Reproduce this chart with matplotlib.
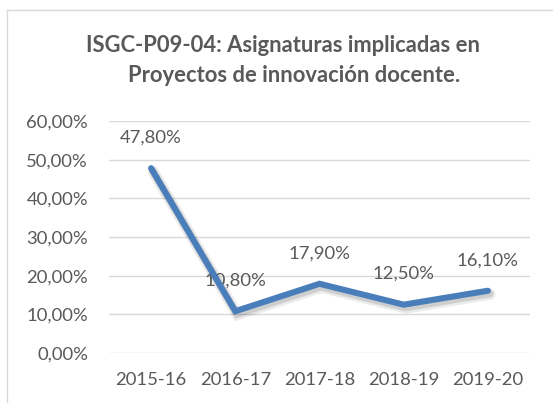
import matplotlib
matplotlib.use("Agg")
import matplotlib.pyplot as plt
import matplotlib.patheffects as pe
from matplotlib.lines import Line2D
from matplotlib.ticker import FuncFormatter

categories = ["2015-16", "2016-17", "2017-18", "2018-19", "2019-20"]
values = [47.80, 10.80, 17.90, 12.50, 16.10]
yticks = [0, 10, 20, 30, 40, 50, 60]
title_lines = ["ISGC-P09-04: Asignaturas implicadas en", "Proyectos de innovación docente."]

TXT = "#595959"
GRID = "#D9D9D9"
LINE = "#4A7EBB"
FONT = "Lato"
FS = 13.3

def pct(v):
    return f"{v:.2f}%".replace(".", ",")

fig = plt.figure(figsize=(5.53, 4.03), dpi=100)
ax = fig.add_axes([109/553, 50/403, 421/553, (353-121)/403])

x = list(range(len(categories)))
ax.plot(x, values, color=LINE, lw=4.4, solid_capstyle="round", solid_joinstyle="miter",
        zorder=3,
        path_effects=[pe.SimpleLineShadow(offset=(1.5, -2.5), alpha=0.08, shadow_color="black",
                                          linewidth=8),
                      pe.SimpleLineShadow(offset=(1.2, -2.0), alpha=0.12, shadow_color="black",
                                          linewidth=5.5),
                      pe.Normal()])
for xi, v in zip(x, values):
    ax.annotate(pct(v), (xi, v), xytext=(0, 22), textcoords="offset points",
                ha="center", va="center", fontsize=FS, color=TXT, family=FONT, zorder=2)

ax.set_xlim(-0.5, len(categories) - 0.5)
ax.set_ylim(0, 60)
ax.set_yticks(yticks)
ax.yaxis.set_major_formatter(FuncFormatter(lambda v, p: pct(v)))
ax.set_xticks(x)
ax.set_xticklabels(categories)
ax.grid(axis="y", color=GRID, lw=1)
ax.set_axisbelow(True)
for s in ax.spines.values():
    s.set_visible(False)
ax.tick_params(axis="both", length=0, colors=TXT, labelsize=FS)
ax.tick_params(axis="y", pad=15)
ax.tick_params(axis="x", pad=14)
for lab in ax.get_xticklabels() + ax.get_yticklabels():
    lab.set_family(FONT)

fig.text(283/553, 1 - 45/403, title_lines[0], ha="center", va="center",
         fontsize=15.8, fontweight="bold", color=TXT, family=FONT)
fig.text(294/553, 1 - 76/403, title_lines[1], ha="center", va="center",
         fontsize=15.8, fontweight="bold", color=TXT, family=FONT)

# chart frame border (top and left visible)
fig.add_artist(Line2D([7/553, 1], [1 - 10/403, 1 - 10/403], transform=fig.transFigure,
                      color=GRID, lw=1))
fig.add_artist(Line2D([7/553, 7/553], [0, 1 - 10/403], transform=fig.transFigure,
                      color=GRID, lw=1))

fig.savefig("out.png", dpi=100)
